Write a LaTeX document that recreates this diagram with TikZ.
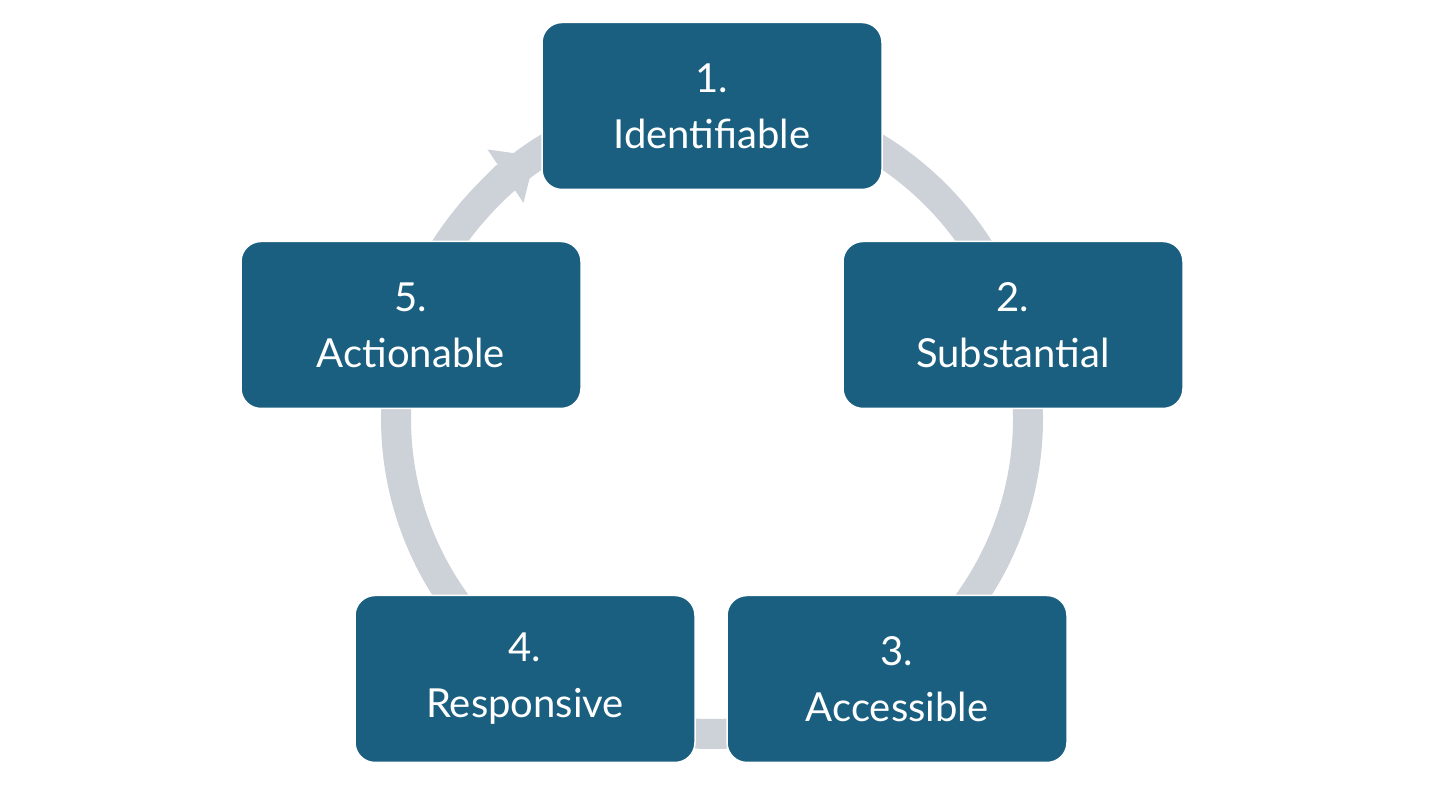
\documentclass[tikz,border=0pt]{standalone}
\usepackage{fontspec}
\setmainfont{Lato}
\usetikzlibrary{arrows.meta}
\definecolor{boxc}{HTML}{1A5F80}
\definecolor{ringc}{HTML}{CDD2D8}
\begin{document}
\begin{tikzpicture}[x=1pt,y=1pt,
  box/.style={fill=boxc,draw=white,line width=1.5pt,rounded corners=20pt,minimum width=340pt,minimum height=167pt,text=white,font=\fontsize{40}{56}\selectfont,align=center}]
\useasboundingbox (0,0) rectangle (1440,810);
\coordinate (c) at (712,392);
\draw[ringc,line width=30pt] (c) circle (316);
\draw[ringc,line width=30pt,-{Triangle[width=62pt,length=36pt]}] (c) ++(140:316) arc (140:124:316);
\node[box] (n1) at (712,704) {1.\\Identifiable};
\node[box] (n2) at (1013,485) {2.\\Substantial};
\node[box] (n3) at (897,131) {3.\\Accessible};
\node[box] (n4) at (525,131) {4.\\Responsive};
\node[box] (n5) at (411,485) {5.\\Actionable};
\end{tikzpicture}
\end{document}
